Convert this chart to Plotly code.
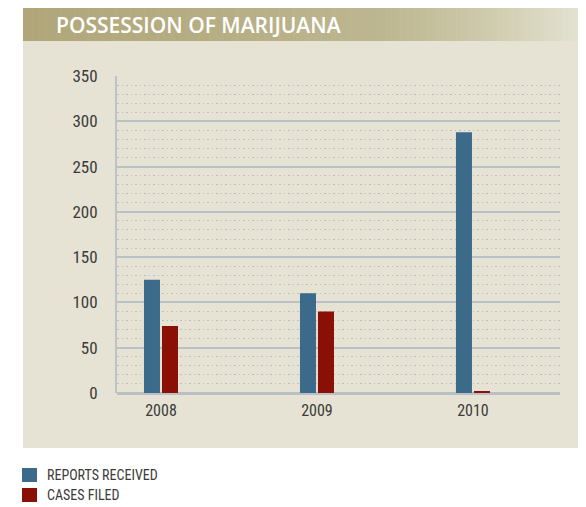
import plotly.graph_objects as go

W, H = 586, 507
OFF = 8  # page body margin offset

years = ["2008", "2009", "2010"]
reports_received = [125, 110, 288]
cases_filed = [74, 90, 2]
y_ticks = [0, 50, 100, 150, 200, 250, 300, 350]

series_names = ["REPORTS RECEIVED", "CASES FILED"]
series_colors = ["#3b6a8b", "#8a0f05"]

FONT = "Liberation Sans Narrow, Arial Narrow, Roboto Condensed, DejaVu Sans Condensed, sans-serif"


def px(x):
    return (x - OFF) / W


def py(y):
    return 1 - (y - OFF) / H


fig = go.Figure()
fig.add_trace(go.Bar(x=years, y=reports_received, name=series_names[0],
                     marker=dict(color=series_colors[0], line=dict(width=0)),
                     offset=-0.109, width=0.1026, showlegend=False))
fig.add_trace(go.Bar(x=years, y=cases_filed, name=series_names[1],
                     marker=dict(color=series_colors[1], line=dict(width=0)),
                     offset=0.0064, width=0.1026, showlegend=False))

shapes = []
shapes.append(dict(type="rect", xref="paper", yref="paper", layer="below",
                   x0=px(23), x1=px(582), y0=py(448), y1=py(41),
                   fillcolor="#e6e3d4", line=dict(width=0)))


def lerp(c1, c2, t):
    return tuple(round(a + (b - a) * t) for a, b in zip(c1, c2))


stops = [(0.0, (176, 166, 122)), (0.4, (183, 175, 134)), (0.65, (189, 183, 145)),
         (0.82, (205, 201, 170)), (1.0, (228, 226, 210))]


def grad(t):
    for (t0, c0), (t1, c1) in zip(stops[:-1], stops[1:]):
        if t <= t1:
            return lerp(c0, c1, (t - t0) / (t1 - t0))
    return stops[-1][1]


n = 120
x0, x1 = 23, 582
for i in range(n):
    a = x0 + (x1 - x0) * i / n
    b = x0 + (x1 - x0) * (i + 1) / n + 0.6
    c = grad((i + 0.5) / n)
    shapes.append(dict(type="rect", xref="paper", yref="paper", layer="below",
                       x0=px(a), x1=px(min(b, x1)), y0=py(41), y1=py(7),
                       fillcolor="rgb(%d,%d,%d)" % c, line=dict(width=0)))

for k, yy in enumerate([468, 488]):
    shapes.append(dict(type="rect", xref="paper", yref="paper",
                       x0=px(22), x1=px(37), y0=py(yy + 14), y1=py(yy),
                       fillcolor=series_colors[k], line=dict(width=0)))

annotations = [
    dict(text="POSSESSION OF MARIJUANA", xref="paper", yref="paper",
         x=px(54), y=py(24.5), xanchor="left", yanchor="middle", showarrow=False,
         font=dict(family="Open Sans, sans-serif", size=21, color="white", weight=600)),
]
for k, yy in enumerate([475, 495]):
    annotations.append(dict(text=series_names[k], xref="paper", yref="paper",
                            x=px(45), y=py(yy), xanchor="left", yanchor="middle",
                            showarrow=False, font=dict(family=FONT, size=14, color="#3a3a3a")))

fig.update_layout(
    width=W, height=H,
    margin=dict(l=0, r=0, t=0, b=0, pad=0),
    paper_bgcolor="white",
    plot_bgcolor="rgba(0,0,0,0)",
    shapes=shapes,
    annotations=annotations,
    barmode="overlay",
    xaxis=dict(type="category", domain=[px(117), px(560)], range=[-0.282, 2.558],
               showgrid=False, zeroline=False, showline=False, ticks="",
               tickfont=dict(family=FONT, size=16, color="#3a3a3a"),
               ticklabelstandoff=6, fixedrange=True, automargin=False),
    yaxis=dict(domain=[py(393), py(76)], range=[0, 350], tickvals=y_ticks,
               showgrid=True, gridcolor="#bac1c5", gridwidth=1.5,
               zeroline=True, zerolinecolor="#b9bfc3", zerolinewidth=2.5,
               showline=True, linecolor="#bcc3c8", linewidth=2,
               ticks="", tickfont=dict(family=FONT, size=17, color="#3a3a3a"),
               ticklabelstandoff=14, automargin=False,
               minor=dict(dtick=10, showgrid=True, gridcolor="#b8bfc3",
                          griddash="1.5px,3px", gridwidth=1.3),
               fixedrange=True),
    showlegend=False,
)

fig.write_html("out.html")
